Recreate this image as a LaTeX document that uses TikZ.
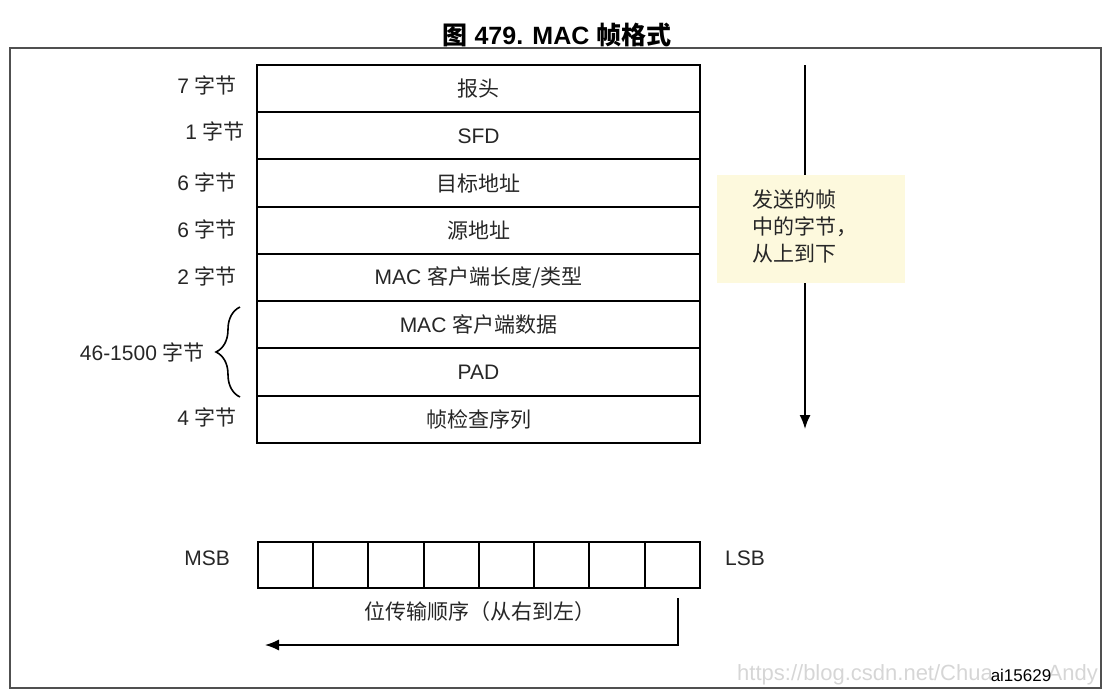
\documentclass[tikz,border=0pt]{standalone}
\usepackage{fontspec}
\setmainfont{Liberation Sans}
\newfontfamily\cjk{Noto Sans CJK SC}
\usetikzlibrary{arrows.meta,positioning,decorations.pathreplacing}
\definecolor{framecol}{HTML}{505050}
\definecolor{notefill}{HTML}{FDF9DD}
\definecolor{txtc}{HTML}{262626}
\definecolor{markc}{HTML}{D6D6D6}
\newcommand{\zh}[1]{{\cjk #1}}

\begin{document}
\begin{tikzpicture}[x=1pt,y=-1pt,font=\fontsize{21}{25}\selectfont,text=txtc,
  field/.style={draw=black,line width=2pt,minimum width=443pt,
                minimum height=47.25pt,inner sep=0pt,outer sep=0pt},
  bitcell/.style={draw=black,line width=2pt,minimum width=55.25pt,
                  minimum height=46pt,inner sep=0pt,outer sep=0pt},
  lbl/.style={inner sep=0pt},
  flow/.style={-{Latex[length=14pt,width=11pt]},line width=1.6pt,black},
]
\useasboundingbox (0,0) rectangle (1114,697);

% title and frame
\node[font=\fontsize{25}{30}\selectfont\bfseries,text=black] (title) at (557,35)
  {\zh{图} 479. MAC \zh{帧格式}};
\draw[framecol,line width=1.4pt] (10,48) rectangle (1101,688);

% frame fields, top to bottom
\node[field] (r1) at (478.5,88.6) {\zh{报头}};
\node[field,below=0pt of r1] (r2) {SFD};
\node[field,below=0pt of r2] (r3) {\zh{目标地址}};
\node[field,below=0pt of r3] (r4) {\zh{源地址}};
\node[field,below=0pt of r4] (r5) {MAC \zh{客户端长度/类型}};
\node[field,below=0pt of r5] (r6) {MAC \zh{客户端数据}};
\node[field,below=0pt of r6] (r7) {PAD};
\node[field,below=0pt of r7] (r8) {\zh{帧检查序列}};

% byte counts
\node[lbl,left=20pt of r1,yshift=3pt] {7 \zh{字节}};
\node[lbl,left=12pt of r2,yshift=4pt] {1 \zh{字节}};
\node[lbl,left=20pt of r3,yshift=1pt] {6 \zh{字节}};
\node[lbl,left=20pt of r4,yshift=1pt] {6 \zh{字节}};
\node[lbl,left=20pt of r5,yshift=1pt] {2 \zh{字节}};
\node[lbl,left=20pt of r8,yshift=2pt] {4 \zh{字节}};
\coordinate (brbot) at (240,397);
\coordinate (brtop) at (240,307);
\draw[decorate,decoration={brace,amplitude=24pt},line width=1.6pt]
  (brbot) -- (brtop) coordinate[midway,xshift=-35pt] (brtip);
\node[lbl,anchor=east] (paylbl) at (brtip) {46-1500 \zh{字节}};

% sending order
\coordinate (seqtop) at (805,65);
\coordinate (seqend) at (805,429);
\draw[flow] (seqtop) -- (seqend);
\node[fill=notefill,minimum width=188pt,minimum height=108pt] (note) at (811,229) {};
\node[lbl,anchor=west,align=left,font=\fontsize{21}{27}\selectfont]
  at ([xshift=35pt,yshift=3pt]note.west)
  {\zh{发送的帧}\\\zh{中的字节，}\\\zh{从上到下}};

% one byte, bit by bit
\node[bitcell] (b1) at (285.6,565) {};
\node[bitcell,right=0pt of b1] (b2) {};
\node[bitcell,right=0pt of b2] (b3) {};
\node[bitcell,right=0pt of b3] (b4) {};
\node[bitcell,right=0pt of b4] (b5) {};
\node[bitcell,right=0pt of b5] (b6) {};
\node[bitcell,right=0pt of b6] (b7) {};
\node[bitcell,right=0pt of b7] (b8) {};
\node[lbl,left=28pt of b1,yshift=7pt] (msb) {MSB};
\node[lbl,right=25pt of b8,yshift=7pt] (lsb) {LSB};

\coordinate (ordtop) at (678,598);
\coordinate (ordend) at (265,645);
\draw[flow,line width=1.3pt] (ordtop) |- (ordend);
\node[lbl] (ordlbl) at (480,612) {\zh{位传输顺序（从右到左）}};

% figure id and watermark
\node[lbl,text=markc,font=\fontsize{22}{26}\selectfont,anchor=west] (wmark)
  at (737,675) {https://blog.csdn.net/Chua};
\node[lbl,text=markc,font=\fontsize{22}{26}\selectfont,anchor=east] (wmark2)
  at (1098,675) {Andy};
\node[inner sep=1pt,font=\fontsize{17}{20}\selectfont,text=black] (figid)
  at (1021,675) {ai15629};
\end{tikzpicture}
\end{document}
